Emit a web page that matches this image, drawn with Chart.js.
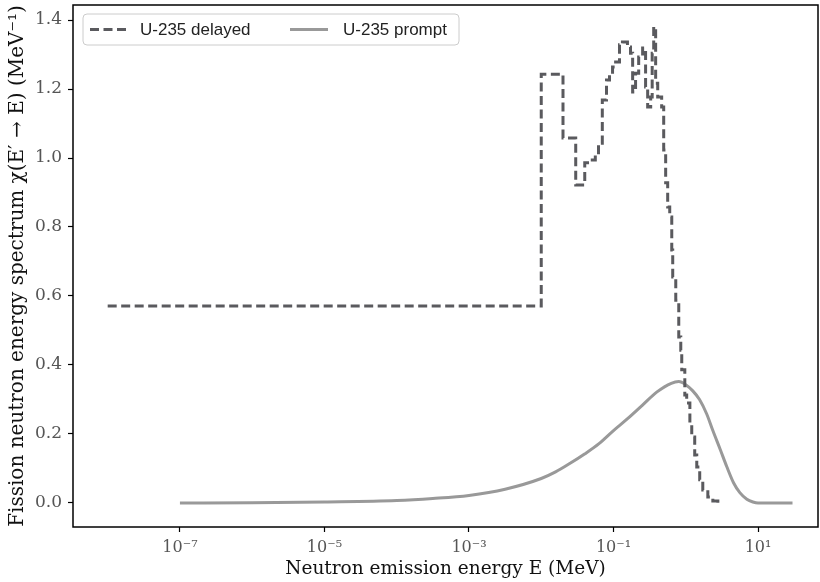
<!DOCTYPE html>
<html>
<head>
<meta charset="utf-8">
<script src="https://cdn.jsdelivr.net/npm/chart.js@4/dist/chart.umd.min.js"></script>
<style>
  html, body { margin: 0; padding: 0; background: #fff; }
  #wrap { width: 820px; height: 582px; }
</style>
</head>
<body>
<div id="wrap"><canvas id="spectrum" width="820" height="582"></canvas></div>
<script>
// U-235 delayed neutron spectrum (bin left edges, MeV) and values (MeV^-1)
const delayedE = [1e-8, 0.01, 0.02, 0.03, 0.04, 0.046, 0.056, 0.062, 0.070, 0.080,
    0.088, 0.097, 0.107, 0.121, 0.133, 0.156, 0.172, 0.184, 0.202, 0.223,
    0.253, 0.278, 0.297, 0.327, 0.343, 0.36, 0.383, 0.409, 0.464, 0.495,
    0.527, 0.562, 0.6, 0.64, 0.66, 0.727, 0.8, 0.853, 0.88, 0.97,
    1.03, 1.14, 1.21, 1.33, 1.42, 1.56, 1.72, 2.02, 2.37, 2.78];
const delayedChi = [0.571, 1.243, 1.058, 0.922, 0.986, 0.994, 1.009, 1.043, 1.168, 1.226,
    1.243, 1.264, 1.278, 1.328, 1.336, 1.322, 1.304, 1.191, 1.246, 1.293,
    1.319, 1.206, 1.148, 1.177, 1.304, 1.380, 1.217, 1.177, 1.148, 1.023,
    0.928, 0.858, 0.829, 0.733, 0.655, 0.588, 0.481, 0.443, 0.386, 0.313,
    0.290, 0.226, 0.191, 0.139, 0.104, 0.067, 0.038, 0.017, 0.006, 0.0];

// U-235 prompt spectrum
const promptE = [1e-7, 1e-6, 1e-5, 1e-4, 3.16e-4, 1e-3, 3.16e-3, 0.01, 0.0158, 0.0251,
    0.0398, 0.063, 0.1, 0.158, 0.25, 0.4, 0.63, 0.8, 1.0, 1.25,
    1.55, 1.95, 2.37, 3.0, 3.7, 4.6, 5.6, 7.0, 8.5, 10, 30];
const promptChi = [0.0, 0.001, 0.003, 0.007, 0.013, 0.022, 0.040, 0.071, 0.090, 0.115,
    0.142, 0.172, 0.21, 0.245, 0.283, 0.322, 0.347, 0.352, 0.343, 0.325,
    0.30, 0.258, 0.21, 0.155, 0.105, 0.058, 0.03, 0.011, 0.003, 0.0, 0.0];

// ticks
const xTickValues = [1e-7, 1e-5, 1e-3, 1e-1, 1e1];
const xTickLabels = ['10⁻⁷', '10⁻⁵', '10⁻³', '10⁻¹', '10¹'];
const yTickValues = [0.0, 0.2, 0.4, 0.6, 0.8, 1.0, 1.2, 1.4];
const yTickLabels = ['0.0', '0.2', '0.4', '0.6', '0.8', '1.0', '1.2', '1.4'];

const seriesNames = ['U-235 delayed', 'U-235 prompt'];

const toPoints = (xs, ys) => xs.map((x, i) => ({ x: x, y: ys[i] }));

const serif = "'DejaVu Serif', 'Liberation Serif', serif";
const sans = "'Liberation Sans', 'DejaVu Sans', sans-serif";

// marco del gráfico + leyenda dentro del área
const framePlugin = {
    id: 'frame',
    afterDraw(chart) {
        const { ctx, chartArea: a } = chart;
        ctx.save();
        ctx.strokeStyle = '#000';
        ctx.lineWidth = 1.5;
        ctx.strokeRect(a.left, a.top, a.right - a.left, a.bottom - a.top);

        // legend
        const bx = a.left + 10, by = a.top + 9, bw = 376, bh = 31;
        ctx.fillStyle = 'rgba(255,255,255,0.85)';
        ctx.strokeStyle = '#cccccc';
        ctx.lineWidth = 1;
        ctx.beginPath();
        ctx.roundRect(bx, by, bw, bh, 4);
        ctx.fill();
        ctx.stroke();

        const ds = chart.data.datasets;
        const cy = by + bh / 2;
        const items = [{ x: bx + 7, tx: bx + 57 }, { x: bx + 207, tx: bx + 260 }];
        items.forEach((it, i) => {
            ctx.strokeStyle = ds[i].borderColor;
            ctx.lineWidth = ds[i].borderWidth;
            ctx.setLineDash(ds[i].borderDash || []);
            ctx.beginPath();
            ctx.moveTo(it.x, cy);
            ctx.lineTo(it.x + 38, cy);
            ctx.stroke();
            ctx.setLineDash([]);
            ctx.fillStyle = '#222';
            ctx.font = '17px ' + sans;
            ctx.textBaseline = 'middle';
            ctx.fillText(ds[i].label, it.tx, cy + 1);
        });
        ctx.restore();
    }
};

const ctx = document.getElementById('spectrum').getContext('2d');
new Chart(ctx, {
    type: 'line',
    data: {
        datasets: [{
            label: seriesNames[0],
            data: toPoints(delayedE, delayedChi),
            borderColor: '#5a5a5e',
            borderWidth: 3,
            borderDash: [9, 4.5],
            stepped: true,
            pointRadius: 0,
            fill: false
        }, {
            label: seriesNames[1],
            data: toPoints(promptE, promptChi),
            borderColor: '#999999',
            borderWidth: 3,
            cubicInterpolationMode: 'monotone',
            pointRadius: 0,
            fill: false
        }]
    },
    options: {
        responsive: false,
        animation: false,
        layout: { padding: { top: 5, right: 2, left: 0, bottom: 0 } },
        plugins: {
            legend: { display: false },
            tooltip: { enabled: false }
        },
        scales: {
            x: {
                type: 'logarithmic',
                min: Math.pow(10, -8.48),
                max: Math.pow(10, 1.83),
                afterBuildTicks: s => { s.ticks = xTickValues.map(v => ({ value: v })); },
                afterFit: s => { s.height = 55; s.paddingLeft = 0; s.paddingRight = 0; },
                grid: { drawOnChartArea: false, tickLength: 5, tickColor: '#000', tickWidth: 1.2 },
                border: { display: false },
                ticks: {
                    color: '#555',
                    font: { family: serif, size: 16 },
                    padding: 6,
                    maxRotation: 0,
                    callback: (v) => xTickLabels[xTickValues.findIndex(t => Math.abs(Math.log10(t) - Math.log10(v)) < 1e-6)]
                },
                title: {
                    display: true,
                    text: 'Neutron emission energy E (MeV)',
                    color: '#111',
                    font: { family: serif, size: 18.5 },
                    padding: { top: 0, bottom: 2 }
                }
            },
            y: {
                min: -0.0696,
                max: 1.4435,
                afterBuildTicks: s => { s.ticks = yTickValues.map(v => ({ value: v })); },
                afterFit: s => { s.width = 73; s.paddingTop = 0; s.paddingBottom = 0; },
                grid: { drawOnChartArea: false, tickLength: 5, tickColor: '#000', tickWidth: 1.2 },
                border: { display: false },
                ticks: {
                    color: '#555',
                    font: { family: serif, size: 17 },
                    padding: 6,
                    callback: (v) => yTickLabels[yTickValues.findIndex(t => Math.abs(t - v) < 1e-6)]
                },
                title: {
                    display: true,
                    text: 'Fission neutron energy spectrum χ(E′ → E) (MeV⁻¹)',
                    color: '#111',
                    font: { family: serif, size: 20 },
                    padding: { top: 6, bottom: 0 }
                }
            }
        }
    },
    plugins: [framePlugin]
});
</script>
</body>
</html>
